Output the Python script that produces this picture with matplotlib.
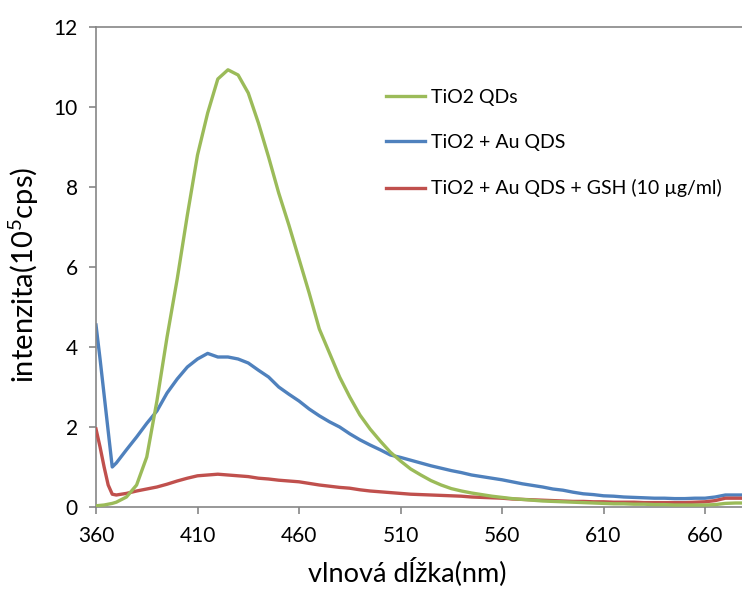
import matplotlib
matplotlib.use("Agg")
import matplotlib.pyplot as plt

plt.rcParams['font.family'] = ['Lato', 'DejaVu Sans']
plt.rcParams['mathtext.fontset'] = 'custom'
plt.rcParams['mathtext.rm'] = 'Lato'
plt.rcParams['mathtext.default'] = 'regular'

wavelength = [360, 362, 364, 366, 368, 370, 375, 380, 385, 390, 395, 400, 405, 410,
              415, 420, 425, 430, 435, 440, 445, 450, 455, 460, 465, 470, 475, 480,
              485, 490, 495, 500, 505, 510, 515, 520, 525, 530, 535, 540, 545, 550,
              555, 560, 565, 570, 575, 580, 585, 590, 595, 600, 605, 610, 615, 620,
              625, 630, 635, 640, 645, 650, 655, 660, 665, 670, 675, 680]

tio2_qds = [0.03, 0.04, 0.05, 0.07, 0.09, 0.12, 0.25, 0.55, 1.25, 2.65, 4.25, 5.7, 7.3, 8.8,
            9.85, 10.7, 10.93, 10.8, 10.35, 9.6, 8.75, 7.85, 7.05, 6.2, 5.35, 4.45, 3.85, 3.25,
            2.75, 2.3, 1.95, 1.65, 1.37, 1.15, 0.95, 0.8, 0.66, 0.55, 0.46, 0.4, 0.35, 0.31,
            0.27, 0.24, 0.21, 0.19, 0.17, 0.15, 0.14, 0.13, 0.12, 0.11, 0.1, 0.09, 0.08, 0.08,
            0.07, 0.07, 0.06, 0.06, 0.05, 0.05, 0.05, 0.05, 0.06, 0.09, 0.1, 0.1]

tio2_au = [4.55, 3.7, 2.8, 1.9, 1.0, 1.1, 1.43, 1.75, 2.09, 2.4, 2.85, 3.2, 3.5, 3.7,
           3.84, 3.75, 3.75, 3.7, 3.6, 3.42, 3.25, 3.0, 2.82, 2.65, 2.45, 2.28, 2.13, 2.0,
           1.83, 1.68, 1.55, 1.43, 1.3, 1.24, 1.17, 1.1, 1.03, 0.97, 0.91, 0.86, 0.8, 0.76,
           0.72, 0.68, 0.63, 0.58, 0.54, 0.5, 0.45, 0.42, 0.37, 0.33, 0.31, 0.28, 0.27, 0.25,
           0.24, 0.23, 0.22, 0.22, 0.21, 0.21, 0.22, 0.22, 0.25, 0.3, 0.3, 0.3]

tio2_au_gsh = [1.95, 1.5, 1.0, 0.55, 0.32, 0.3, 0.34, 0.4, 0.45, 0.5, 0.57, 0.65, 0.72, 0.78,
               0.8, 0.82, 0.8, 0.78, 0.76, 0.72, 0.7, 0.67, 0.65, 0.63, 0.59, 0.55, 0.52, 0.49,
               0.47, 0.43, 0.4, 0.38, 0.36, 0.34, 0.32, 0.31, 0.3, 0.29, 0.28, 0.27, 0.25, 0.24,
               0.23, 0.22, 0.2, 0.19, 0.18, 0.17, 0.16, 0.15, 0.14, 0.14, 0.13, 0.13, 0.12, 0.12,
               0.12, 0.11, 0.11, 0.11, 0.11, 0.11, 0.12, 0.13, 0.16, 0.22, 0.22, 0.22]

labels = ["TiO2 QDs", "TiO2 + Au QDS", "TiO2 + Au QDS + GSH (10 µg/ml)"]
colors = ["#9BBB59", "#4F81BD", "#C0504D"]
x_ticks = [360, 410, 460, 510, 560, 610, 660]
y_ticks = [0, 2, 4, 6, 8, 10, 12]

fig = plt.figure(figsize=(7.42, 5.90), dpi=100)
ax = fig.add_axes([96/742, 1-507/590, 1-96/742, (507-27)/590])

lw = 2.4
l2, = ax.plot(wavelength, tio2_au, color=colors[1], lw=lw, zorder=2, label=labels[1])
l3, = ax.plot(wavelength, tio2_au_gsh, color=colors[2], lw=lw, zorder=3, label=labels[2])
l1, = ax.plot(wavelength, tio2_qds, color=colors[0], lw=lw, zorder=4, label=labels[0])

ax.set_xlim(360, 678.2)
ax.set_ylim(0, 12)
ax.set_xticks(x_ticks)
ax.set_yticks(y_ticks)

gray = "#868686"
for s in ["left", "bottom", "top"]:
    ax.spines[s].set_color(gray)
    ax.spines[s].set_linewidth(1.2)
ax.spines["right"].set_visible(False)
ax.tick_params(axis="both", direction="out", length=5, width=1.2, color=gray,
               labelsize=15, labelcolor="black")
ax.tick_params(axis="x", pad=9)
ax.tick_params(axis="y", pad=8)

ax.set_xlabel("vlnová dĺžka(nm)", fontsize=19.5)
ax.set_ylabel("intenzita(10$^{5}$cps)", fontsize=21)
ax.xaxis.set_label_coords((407-96)/646, -(557-507)/480)
ax.yaxis.set_label_coords(-(96-41)/646, (507-275)/480)

fig.legend(handles=[l1, l2, l3], loc="upper left",
           bbox_to_anchor=(386/742, 1-89/590), frameon=False, fontsize=14,
           handlelength=2.0, handletextpad=0.3, labelspacing=1.45, borderpad=0,
           borderaxespad=0)

fig.savefig("out.png", dpi=100)
